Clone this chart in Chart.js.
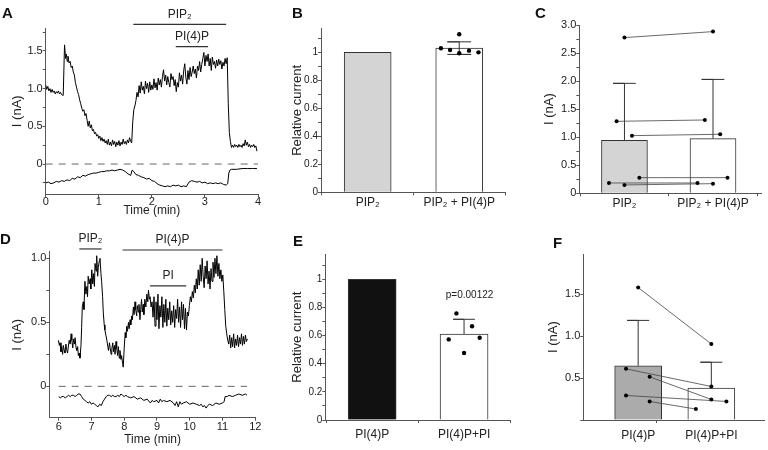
<!DOCTYPE html>
<html>
<head>
<meta charset="utf-8">
<script src="https://cdn.jsdelivr.net/npm/chart.js@4.4.1/dist/chart.umd.min.js"></script>
<style>
  body { margin: 0; background: #fff; width: 768px; height: 450px; position: relative; overflow: hidden; }
  canvas { position: absolute; }
  .tag { position: absolute; font: bold 15px "Liberation Sans", Arial, sans-serif; line-height: 15px; color: #111; }
</style>
</head>
<body>
<canvas id="cA" width="262" height="218" style="left:0;top:0"></canvas>
<canvas id="cB" width="235" height="217" style="left:275px;top:0"></canvas>
<canvas id="cC" width="238" height="217" style="left:530px;top:0"></canvas>
<canvas id="cD" width="262" height="222" style="left:0;top:225px"></canvas>
<canvas id="cE" width="240" height="219" style="left:275px;top:225px"></canvas>
<canvas id="cF" width="238" height="219" style="left:530px;top:225px"></canvas>
<div class="tag" style="left:2px;top:5px">A</div>
<div class="tag" style="left:292px;top:5px">B</div>
<div class="tag" style="left:535px;top:5px">C</div>
<div class="tag" style="left:0px;top:231px">D</div>
<div class="tag" style="left:293px;top:233px">E</div>
<div class="tag" style="left:553px;top:235px">F</div>
<script>
// ---- panel A: current trace (min, nA)
const traceA = [[0,1.05],[0.02,0.99],[0.04,1.03],[0.06,0.97],[0.08,1.0],[0.1,0.95],[0.12,0.99],[0.14,0.95],[0.16,0.97],[0.18,0.93],[0.2,0.96],[0.22,0.94],[0.24,0.97],[0.26,0.93],[0.28,0.95],[0.3,0.92],[0.33,0.91],[0.355,1.58],[0.375,1.40],[0.39,1.46],[0.405,1.36],[0.42,1.43],[0.44,1.34],[0.46,1.36],[0.48,1.28],[0.5,1.30],[0.52,1.22],[0.54,1.18],[0.56,1.08],[0.58,1.02],[0.6,0.96],[0.62,0.92],[0.64,0.85],[0.66,0.80],[0.68,0.74],[0.7,0.70],[0.72,0.72],[0.74,0.64],[0.76,0.67],[0.78,0.58],[0.8,0.50],[0.82,0.57],[0.84,0.48],[0.86,0.52],[0.88,0.44],[0.9,0.46],[0.92,0.40],[0.94,0.42],[0.96,0.37],[0.98,0.39],[1.0,0.34],[1.02,0.37],[1.04,0.31],[1.06,0.35],[1.08,0.30],[1.1,0.33],[1.12,0.28],[1.14,0.31],[1.16,0.26],[1.18,0.33],[1.2,0.25],[1.22,0.29],[1.24,0.24],[1.26,0.32],[1.28,0.26],[1.3,0.30],[1.32,0.23],[1.34,0.29],[1.36,0.25],[1.38,0.31],[1.4,0.24],[1.42,0.29],[1.44,0.26],[1.46,0.33],[1.48,0.27],[1.5,0.30],[1.52,0.26],[1.54,0.32],[1.56,0.28],[1.58,0.35],[1.6,0.30],[1.62,0.28],[1.64,0.56],[1.66,0.72],[1.68,0.77],[1.7,0.84],[1.72,0.95],[1.74,0.89],[1.76,1.04],[1.78,0.94],[1.8,1.09],[1.82,0.98],[1.84,1.03],[1.86,0.93],[1.88,1.10],[1.9,1.00],[1.92,1.07],[1.94,0.95],[1.96,1.09],[1.98,0.98],[2.0,1.05],[2.02,0.99],[2.04,1.13],[2.06,1.01],[2.08,1.08],[2.1,0.98],[2.12,1.14],[2.14,1.05],[2.16,1.12],[2.18,1.02],[2.2,1.16],[2.22,1.25],[2.24,1.10],[2.26,1.18],[2.28,1.05],[2.3,1.16],[2.32,1.08],[2.34,1.02],[2.36,1.20],[2.38,1.12],[2.4,1.16],[2.42,1.04],[2.44,1.12],[2.46,0.96],[2.48,1.08],[2.5,1.02],[2.52,1.21],[2.54,1.10],[2.56,1.18],[2.58,1.06],[2.6,1.24],[2.62,1.33],[2.64,1.15],[2.66,1.06],[2.68,1.24],[2.7,1.12],[2.72,1.28],[2.74,1.16],[2.76,1.22],[2.78,1.30],[2.8,1.20],[2.82,1.26],[2.84,1.14],[2.86,1.30],[2.88,1.24],[2.9,1.36],[2.92,1.22],[2.94,1.32],[2.96,1.40],[2.98,1.48],[3.0,1.30],[3.02,1.44],[3.04,1.36],[3.06,1.46],[3.08,1.30],[3.1,1.40],[3.12,1.24],[3.14,1.42],[3.16,1.32],[3.18,1.36],[3.2,1.27],[3.22,1.38],[3.24,1.30],[3.26,1.39],[3.28,1.32],[3.3,1.37],[3.32,1.26],[3.34,1.35],[3.36,1.30],[3.38,1.40],[3.4,1.33],[3.42,1.41],[3.44,0.80],[3.46,0.42],[3.48,0.30],[3.5,0.22],[3.52,0.25],[3.54,0.22],[3.56,0.26],[3.58,0.23],[3.6,0.25],[3.62,0.22],[3.64,0.26],[3.66,0.23],[3.68,0.25],[3.7,0.22],[3.72,0.27],[3.74,0.24],[3.76,0.32],[3.78,0.25],[3.8,0.29],[3.82,0.23],[3.84,0.26],[3.86,0.22],[3.88,0.25],[3.9,0.23],[3.92,0.26],[3.94,0.22],[3.96,0.24],[3.98,0.17]];
const baseA = [[0,-0.25],[0.05,-0.24],[0.1,-0.26],[0.15,-0.25],[0.2,-0.23],[0.25,-0.24],[0.3,-0.22],[0.35,-0.23],[0.4,-0.21],[0.45,-0.22],[0.5,-0.19],[0.55,-0.2],[0.6,-0.17],[0.65,-0.18],[0.7,-0.15],[0.75,-0.16],[0.8,-0.14],[0.85,-0.13],[0.9,-0.12],[0.95,-0.12],[1.0,-0.11],[1.05,-0.1],[1.1,-0.1],[1.15,-0.09],[1.2,-0.09],[1.25,-0.08],[1.3,-0.09],[1.35,-0.08],[1.4,-0.07],[1.45,-0.08],[1.5,-0.1],[1.55,-0.13],[1.6,-0.15],[1.63,-0.08],[1.66,-0.1],[1.7,-0.14],[1.75,-0.15],[1.8,-0.17],[1.85,-0.18],[1.9,-0.2],[1.95,-0.19],[2.0,-0.22],[2.05,-0.23],[2.1,-0.26],[2.15,-0.28],[2.2,-0.29],[2.25,-0.3],[2.3,-0.29],[2.35,-0.3],[2.4,-0.28],[2.45,-0.29],[2.5,-0.28],[2.55,-0.3],[2.6,-0.29],[2.65,-0.3],[2.7,-0.24],[2.75,-0.22],[2.8,-0.23],[2.85,-0.24],[2.9,-0.23],[2.95,-0.25],[3.0,-0.24],[3.05,-0.26],[3.1,-0.25],[3.15,-0.26],[3.2,-0.25],[3.25,-0.26],[3.3,-0.25],[3.35,-0.27],[3.4,-0.28],[3.43,-0.26],[3.45,-0.12],[3.47,-0.08],[3.5,-0.07],[3.6,-0.07],[3.7,-0.06],[3.8,-0.06],[3.9,-0.06],[3.98,-0.06]];
const zeroA = [0, 4];
const marksA = [
  { text: 'PIP₂', from: 1.65, to: 3.4, level: 1.853 },
  { text: 'PI(4)P', from: 2.45, to: 3.06, level: 1.556 },
];
const xTicksA = [0, 1, 2, 3, 4];
const yTicksA = [-0.25, 0, 0.25, 0.5, 0.75, 1, 1.25, 1.5, 1.75];
const yTextA = ['', '0', '', '0.5', '', '1.0', '', '1.5', ''];

// ---- panel D: current trace
const traceD = [[5.99,0.36],[6.02,0.32],[6.04,0.34],[6.07,0.27],[6.09,0.31],[6.12,0.25],[6.14,0.32],[6.17,0.28],[6.19,0.26],[6.22,0.33],[6.24,0.29],[6.27,0.26],[6.29,0.30],[6.32,0.36],[6.35,0.33],[6.38,0.41],[6.4,0.36],[6.43,0.30],[6.45,0.37],[6.48,0.33],[6.5,0.38],[6.53,0.30],[6.55,0.28],[6.58,0.31],[6.6,0.24],[6.63,0.26],[6.65,0.22],[6.68,0.32],[6.7,0.46],[6.72,0.62],[6.75,0.66],[6.77,0.60],[6.8,0.82],[6.83,0.72],[6.86,0.78],[6.88,0.70],[6.9,0.86],[6.93,0.80],[6.96,0.84],[6.98,0.76],[7.01,0.91],[7.04,0.80],[7.06,0.88],[7.09,0.78],[7.11,0.96],[7.14,0.90],[7.16,1.02],[7.19,0.86],[7.21,0.93],[7.24,0.98],[7.26,1.00],[7.29,0.88],[7.31,0.82],[7.34,0.70],[7.36,0.58],[7.39,0.48],[7.41,0.44],[7.44,0.40],[7.47,0.36],[7.5,0.31],[7.52,0.28],[7.55,0.34],[7.57,0.30],[7.6,0.25],[7.62,0.29],[7.65,0.34],[7.67,0.27],[7.7,0.32],[7.72,0.25],[7.75,0.35],[7.77,0.30],[7.8,0.24],[7.82,0.31],[7.85,0.22],[7.87,0.28],[7.9,0.21],[7.92,0.24],[7.95,0.18],[7.97,0.15],[8.0,0.30],[8.03,0.42],[8.05,0.38],[8.08,0.47],[8.1,0.43],[8.13,0.50],[8.15,0.45],[8.18,0.52],[8.2,0.48],[8.23,0.55],[8.25,0.52],[8.28,0.62],[8.3,0.56],[8.33,0.66],[8.35,0.60],[8.38,0.55],[8.4,0.63],[8.43,0.58],[8.45,0.64],[8.48,0.52],[8.5,0.60],[8.53,0.68],[8.55,0.58],[8.58,0.64],[8.6,0.56],[8.63,0.68],[8.66,0.62],[8.69,0.72],[8.72,0.66],[8.74,0.75],[8.77,0.68],[8.79,0.70],[8.82,0.62],[8.85,0.66],[8.88,0.54],[8.91,0.70],[8.94,0.47],[8.97,0.66],[9.0,0.52],[9.03,0.72],[9.06,0.45],[9.09,0.63],[9.12,0.54],[9.15,0.70],[9.18,0.46],[9.21,0.64],[9.24,0.50],[9.27,0.68],[9.3,0.47],[9.33,0.61],[9.36,0.52],[9.39,0.66],[9.42,0.48],[9.45,0.59],[9.48,0.50],[9.51,0.63],[9.54,0.46],[9.57,0.60],[9.6,0.53],[9.63,0.68],[9.66,0.50],[9.69,0.62],[9.72,0.46],[9.75,0.66],[9.78,0.52],[9.81,0.64],[9.84,0.45],[9.87,0.61],[9.9,0.44],[9.93,0.58],[9.96,0.55],[9.99,0.63],[10.02,0.70],[10.05,0.66],[10.08,0.74],[10.11,0.69],[10.14,0.79],[10.17,0.73],[10.2,0.84],[10.23,0.76],[10.26,0.91],[10.29,0.79],[10.32,0.95],[10.35,0.82],[10.38,1.00],[10.41,0.86],[10.44,0.77],[10.47,0.94],[10.5,0.84],[10.53,0.98],[10.56,0.80],[10.59,0.90],[10.62,0.76],[10.65,0.92],[10.68,0.82],[10.71,0.97],[10.74,0.85],[10.77,1.00],[10.8,0.88],[10.83,1.02],[10.86,0.86],[10.89,0.96],[10.92,0.84],[10.95,0.91],[10.98,0.82],[11.01,0.87],[11.04,0.74],[11.07,0.60],[11.1,0.47],[11.13,0.41],[11.16,0.36],[11.19,0.33],[11.22,0.40],[11.25,0.30],[11.28,0.38],[11.31,0.31],[11.34,0.41],[11.37,0.30],[11.4,0.37],[11.43,0.32],[11.46,0.40],[11.49,0.31],[11.52,0.38],[11.55,0.33],[11.58,0.41],[11.61,0.32],[11.64,0.39],[11.67,0.33],[11.7,0.40],[11.73,0.35],[11.76,0.37]];
const baseD = [[6.0,-0.08],[6.05,-0.09],[6.1,-0.08],[6.15,-0.08],[6.2,-0.09],[6.25,-0.08],[6.3,-0.07],[6.35,-0.08],[6.4,-0.07],[6.45,-0.07],[6.5,-0.08],[6.55,-0.07],[6.6,-0.06],[6.65,-0.06],[6.7,-0.08],[6.75,-0.1],[6.8,-0.11],[6.85,-0.12],[6.9,-0.13],[6.95,-0.12],[7.0,-0.14],[7.05,-0.13],[7.1,-0.14],[7.15,-0.15],[7.2,-0.16],[7.25,-0.14],[7.3,-0.15],[7.35,-0.12],[7.4,-0.1],[7.45,-0.08],[7.5,-0.07],[7.55,-0.07],[7.6,-0.08],[7.65,-0.07],[7.7,-0.08],[7.75,-0.08],[7.8,-0.07],[7.85,-0.08],[7.9,-0.06],[7.95,-0.07],[8.0,-0.08],[8.05,-0.07],[8.1,-0.08],[8.2,-0.09],[8.3,-0.08],[8.4,-0.1],[8.5,-0.09],[8.6,-0.11],[8.7,-0.1],[8.8,-0.13],[8.85,-0.11],[8.9,-0.12],[9.0,-0.11],[9.05,-0.13],[9.1,-0.1],[9.15,-0.12],[9.2,-0.11],[9.3,-0.12],[9.4,-0.11],[9.5,-0.13],[9.55,-0.15],[9.6,-0.12],[9.65,-0.16],[9.7,-0.12],[9.75,-0.14],[9.8,-0.13],[9.9,-0.12],[10.0,-0.14],[10.1,-0.13],[10.2,-0.14],[10.3,-0.15],[10.35,-0.14],[10.4,-0.16],[10.45,-0.15],[10.5,-0.17],[10.55,-0.15],[10.6,-0.14],[10.7,-0.15],[10.8,-0.13],[10.9,-0.14],[11.0,-0.13],[11.05,-0.12],[11.08,-0.08],[11.15,-0.08],[11.2,-0.07],[11.3,-0.08],[11.4,-0.07],[11.5,-0.06],[11.6,-0.07],[11.7,-0.06],[11.75,-0.07]];
const zeroD = [6, 11.75];
const marksD = [
  { text: 'PIP₂', from: 6.63, to: 7.31, level: 1.073 },
  { text: 'PI(4)P', from: 7.95, to: 11.0, level: 1.065 },
  { text: 'PI', from: 8.79, to: 9.89, level: 0.784 },
];
const xTicksD = [6, 7, 8, 9, 10, 11, 12];
const yTicksD = [0, 0.25, 0.5, 0.75, 1];
const yTextD = ['0', '', '0.5', '', '1.0'];

// ---- panel B: relative current
const catsB = ['PIP₂', 'PIP₂ + PI(4)P'];
const meanB = [1, 1.03];
const sdB = [0, 0.045];
const dotsB = [1.029, 1.017, 1.129, 0.993, 1.012, 1.0];
const jitterB = [-0.2, -0.1, 0, 0, 0.107, 0.21];

// ---- panel E: relative current
const catsE = ['PI(4)P', 'PI(4)P+PI'];
const meanE = [1, 0.611];
const sdE = [0, 0.105];
const dotsE = [0.758, 0.666, 0.573, 0.585, 0.476];
const jitterE = [-0.083, 0.087, -0.167, 0.17, 0];
const noteE = [{ text: 'p=0.00122', from: 1.06, level: 0.888 }];

const relTicks = [0, 0.1, 0.2, 0.3, 0.4, 0.5, 0.6, 0.7, 0.8, 0.9, 1, 1.1];
const relText = ['0', '', '0.2', '', '0.4', '', '0.6', '', '0.8', '', '1', ''];

// ---- panel C: paired currents (nA)
const catsC = ['PIP₂', 'PIP₂ + PI(4)P'];
const meanC = [0.945, 0.974];
const sdC = [1.015, 1.056];
const pairLeftC = [2.775, 1.283, 1.028, 0.279, 0.184, 0.149];
const pairRightC = [2.882, 1.307, 1.052, 0.279, 0.184, 0.172];
const jitLeftC = [0, -0.089, 0.085, 0.168, -0.175, 0];
const jitRightC = [0, -0.092, 0.081, 0.164, -0.175, 0];
const yTicksC = [0, 0.25, 0.5, 0.75, 1, 1.25, 1.5, 1.75, 2, 2.25, 2.5, 2.75, 3];
const yTextC = ['0', '', '0.5', '', '1.0', '', '1.5', '', '2.0', '', '2.5', '', '3.0'];

// ---- panel F: paired currents (nA)
const catsF = ['PI(4)P', '', 'PI(4)P+PI'];
const xTicksF = [0, 0.5, 1];
const meanF = [0.645, 0.38];
const sdF = [0.541, 0.308];
const pairLeftF = [1.577, 0.609, 0.514, 0.292, 0.221];
const pairRightF = [0.905, 0.399, 0.245, 0.221, 0.13];
const jitLeftF = [0, -0.166, 0.157, -0.166, 0.157];
const jitRightF = [0, 0, 0, 0.206, -0.211];
const yTicksF = [0, 0.5, 1, 1.5];
const yTextF = ['', '0.5', '1.0', '1.5'];

const FONT = "'Liberation Sans', Arial, sans-serif";
const INK = '#222';
const AXIS = '#555';
Chart.defaults.font.family = FONT;
Chart.defaults.color = INK;
Chart.defaults.animation = false;
Chart.defaults.events = [];
Chart.defaults.plugins.legend.display = false;
Chart.defaults.plugins.tooltip.enabled = false;

const pts = (arr) => arr.map(([x, y]) => ({ x, y }));

function axis(o) {
  return {
    type: 'linear',
    min: o.min,
    max: o.max,
    offset: false,
    afterFit: (s) => {
      if (o.horizontal) s.height = o.size;
      else s.width = o.size;
    },
    afterBuildTicks: (s) => {
      s.ticks = o.vals.map((v) => ({ value: v }));
    },
    ticks: {
      autoSkip: false,
      maxRotation: 0,
      padding: o.pad || 0,
      color: INK,
      font: { size: o.fontSize },
      callback: (v, i) => o.texts[i],
    },
    grid: {
      drawOnChartArea: false,
      tickLength: 3,
      color: AXIS,
      tickColor: o.tickColor || AXIS,
    },
    border: { color: AXIS, width: 1 },
    title: o.title
      ? {
          display: true,
          text: o.title,
          color: INK,
          font: { size: o.titleSize },
          padding: o.horizontal ? { top: 0, bottom: 0 } : { top: o.titlePad, bottom: 0 },
        }
      : { display: false },
  };
}

// text (and optional bar) drawn at data coordinates
function labels(items, size) {
  return {
    id: 'labels',
    afterDatasetsDraw(chart) {
      const { ctx, scales: { x, y } } = chart;
      ctx.save();
      ctx.font = size + 'px ' + FONT;
      ctx.fillStyle = INK;
      ctx.strokeStyle = '#333';
      ctx.lineWidth = 1.2;
      ctx.textAlign = 'center';
      ctx.textBaseline = 'middle';
      items.forEach((it) => {
        const py = y.getPixelForValue(it.level);
        const x0 = x.getPixelForValue(it.from);
        if (it.to == null) {
          ctx.fillText(it.text, x0, py);
          return;
        }
        const x1 = x.getPixelForValue(it.to);
        ctx.beginPath();
        ctx.moveTo(x0, py);
        ctx.lineTo(x1, py);
        ctx.stroke();
        ctx.fillText(it.text, (x0 + x1) / 2, py - 10);
      });
      ctx.restore();
    },
  };
}

function traceChart(id, o) {
  new Chart(document.getElementById(id), {
    type: 'scatter',
    data: {
      datasets: [
        { type: 'line', data: pts(o.trace), borderColor: '#000', borderWidth: 1, pointRadius: 0 },
        { type: 'line', data: pts(o.base), borderColor: '#000', borderWidth: 1, pointRadius: 0 },
        {
          type: 'line',
          data: o.zero.map((x) => ({ x, y: 0 })),
          borderColor: '#666',
          borderWidth: 1,
          borderDash: [7, 6],
          pointRadius: 0,
        },
      ],
    },
    options: {
      responsive: false,
      layout: { padding: o.pad },
      scales: { x: axis(o.x), y: axis(o.y) },
    },
    plugins: [labels(o.marks, 12)],
  });
}

function barChart(id, o) {
  const datasets = [];
  datasets.push({
    type: 'bar',
    data: o.means.map((m, i) => ({ x: i, y: m })),
    backgroundColor: o.fills,
    borderColor: '#333',
    borderWidth: 1,
    barThickness: o.barWidth,
    order: 3,
  });
  o.means.forEach((m, i) => {
    if (!o.sd[i]) return;
    const top = m + o.sd[i];
    const d = [{ x: i, y: m }, { x: i, y: top }, { x: i - o.cap, y: top }, { x: i + o.cap, y: top }];
    if (o.both) {
      const lo = m - o.sd[i];
      d.unshift({ x: i - o.cap, y: lo }, { x: i + o.cap, y: lo }, { x: i, y: lo });
    }
    datasets.push({ type: 'line', data: d, borderColor: '#333', borderWidth: 1, pointRadius: 0, order: 2 });
  });
  if (o.dots) {
    datasets.push({
      type: 'scatter',
      data: o.dots.map((v, k) => ({ x: 1 + o.jitter[k], y: v })),
      pointRadius: 2.2,
      pointBackgroundColor: '#000',
      pointBorderWidth: 0,
      order: 1,
    });
  }
  if (o.left) {
    o.left.forEach((v, k) => {
      datasets.push({
        type: 'line',
        data: [
          { x: o.jitLeft[k], y: v },
          { x: 1 + o.jitRight[k], y: o.right[k] },
        ],
        borderColor: '#444',
        borderWidth: 0.8,
        pointRadius: 2,
        pointBackgroundColor: '#000',
        pointBorderWidth: 0,
        order: 1,
      });
    });
  }
  new Chart(document.getElementById(id), {
    type: 'scatter',
    data: { datasets },
    options: {
      responsive: false,
      layout: { padding: o.pad },
      scales: { x: axis(o.x), y: axis(o.y) },
    },
    plugins: [labels(o.notes || [], 10)],
  });
}

traceChart('cA', {
  trace: traceA, base: baseA, zero: zeroA, marks: marksA,
  pad: { left: 0, top: 28.3, right: 4, bottom: 0 },
  x: { horizontal: true, min: 0, max: 4, size: 23.8, vals: xTicksA, texts: xTicksA.map(String), fontSize: 11, pad: -1.5, title: 'Time (min)', titleSize: 12 },
  y: { min: -0.4, max: 1.8, size: 45.7, vals: yTicksA, texts: yTextA, fontSize: 11, title: 'I (nA)', titleSize: 13, titlePad: 9.7 },
});

traceChart('cD', {
  trace: traceD, base: baseD, zero: zeroD, marks: marksD,
  pad: { left: 0, top: 26.9, right: 6.1, bottom: 0 },
  x: { horizontal: true, min: 5.713, max: 12.02, size: 29.3, vals: xTicksD, texts: xTicksD.map(String), fontSize: 11, pad: 0, title: 'Time (min)', titleSize: 12 },
  y: { min: -0.245, max: 1.05, size: 49.3, vals: yTicksD, texts: yTextD, fontSize: 11, title: 'I (nA)', titleSize: 13, titlePad: 9.7 },
});

barChart('cB', {
  means: meanB, sd: sdB, both: true, cap: 0.13, barWidth: 47, fills: ['#d4d4d4', '#ffffff'],
  dots: dotsB, jitter: jitterB,
  pad: { left: 0, top: 28.4, right: 5, bottom: 0 },
  x: { horizontal: true, min: -0.51, max: 1.5, size: 24.7, vals: [0, 1], texts: catsB, fontSize: 12, pad: 0.5 },
  y: { min: 0, max: 1.171, size: 46, vals: relTicks, texts: relText, fontSize: 10, title: 'Relative current', titleSize: 13, titlePad: 14.2 },
});

barChart('cE', {
  means: meanE, sd: sdE, both: false, cap: 0.118, barWidth: 48, fills: ['#111111', '#ffffff'],
  dots: dotsE, jitter: jitterE, notes: noteE,
  pad: { left: 0, top: 29.3, right: 5, bottom: 0 },
  x: { horizontal: true, min: -0.51, max: 1.5, size: 24, vals: [0, 1], texts: catsE, fontSize: 12, pad: 4 },
  y: { min: 0, max: 1.178, size: 50.3, vals: relTicks, texts: relText, fontSize: 10, title: 'Relative current', titleSize: 13, titlePad: 14.2 },
});

barChart('cC', {
  means: meanC, sd: sdC, both: false, cap: 0.128, barWidth: 46, fills: ['#d4d4d4', '#ffffff'],
  left: pairLeftC, right: pairRightC, jitLeft: jitLeftC, jitRight: jitRightC,
  pad: { left: 0, top: 25, right: 6.3, bottom: 0 },
  x: { horizontal: true, min: -0.51, max: 1.55, size: 23.7, vals: [0, 1], texts: catsC, fontSize: 12, pad: 0 },
  y: { min: 0, max: 3, size: 49.3, vals: yTicksC, texts: yTextC, fontSize: 11, title: 'I (nA)', titleSize: 13, titlePad: 11.2 },
});

barChart('cF', {
  means: meanF, sd: sdF, both: false, cap: 0.15, barWidth: 47, fills: ['#ababab', '#ffffff'],
  left: pairLeftF, right: pairRightF, jitLeft: jitLeftF, jitRight: jitRightF,
  pad: { left: 0, top: 29.3, right: 1.3, bottom: 0 },
  x: {
    horizontal: true, min: -0.75, max: 1.72, size: 24, vals: xTicksF, texts: catsF, fontSize: 12, pad: 5,
    tickColor: (c) => (c.tick && catsF[xTicksF.indexOf(c.tick.value)] === '' ? AXIS : 'rgba(0,0,0,0)'),
  },
  y: { min: 0, max: 1.973, size: 53.3, vals: yTicksF, texts: yTextF, fontSize: 11, title: 'I (nA)', titleSize: 13, titlePad: 15.2 },
});
</script>
</body>
</html>
